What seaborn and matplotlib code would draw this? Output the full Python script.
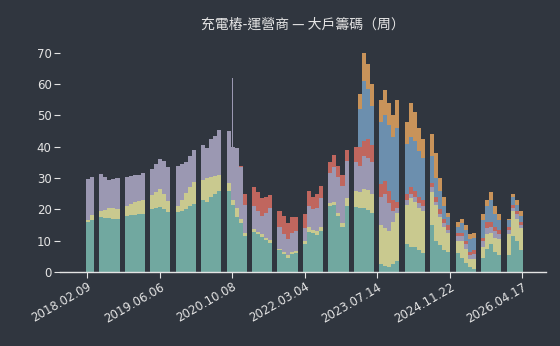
import pandas as pd
import seaborn as sns
import matplotlib.pyplot as plt
import numpy as np

# 每個區塊的週數 (區塊之間留空白)
block_sizes = [2, 5, 5, 5, 5, 5, 5, 5, 5, 5, 5, 5, 5, 5, 5, 5, 5, 4]
gap = 1.3

# 累積持股比例 (由下往上, 單位 %)
lvl_teal = [
    [16.0, 16.5],
    [17.6, 17.4, 17.2, 17.0, 17.0],
    [18.0, 18.1, 18.2, 18.4, 18.6],
    [20.2, 20.6, 20.8, 20.0, 19.2],
    [19.2, 19.5, 20.2, 21.0, 21.8],
    [22.9, 22.5, 24.0, 25.0, 26.0],
    [26.0, 21.5, 17.5, 15.5, 11.5],
    [12.8, 12.0, 11.2, 10.2, 9.3],
    [6.9, 5.8, 4.6, 5.8, 6.2],
    [9.0, 12.8, 12.3, 11.8, 13.0],
    [21.0, 21.3, 18.0, 14.5, 21.0],
    [20.8, 20.5, 20.3, 19.8, 18.8],
    [2.7, 2.0, 1.6, 2.5, 3.5],
    [9.0, 8.0, 8.0, 7.0, 6.0],
    [15.0, 10.0, 8.5, 7.0, 6.5],
    [6.0, 4.5, 3.0, 1.5, 1.0],
    [4.5, 7.5, 9.0, 6.5, 5.5],
    [5.5, 11.5, 10.0, 7.0],
]
lvl_yellow = [
    [16.6, 18.3],
    [19.4, 19.8, 20.5, 20.5, 20.0],
    [21.0, 21.6, 22.2, 22.7, 23.1],
    [24.5, 25.6, 26.6, 25.0, 22.7],
    [21.2, 23.0, 25.2, 27.0, 28.6],
    [29.4, 30.0, 30.5, 30.8, 31.0],
    [28.5, 23.0, 20.5, 17.0, 12.5],
    [13.8, 12.8, 12.0, 11.0, 10.3],
    [7.5, 6.5, 5.3, 6.5, 6.8],
    [10.0, 14.5, 13.5, 13.0, 14.5],
    [22.0, 22.4, 19.0, 15.5, 23.5],
    [26.0, 25.5, 26.5, 26.3, 25.0],
    [15.0, 14.0, 13.0, 16.0, 19.0],
    [21.5, 23.5, 22.5, 20.5, 19.5],
    [25.5, 21.5, 17.5, 14.5, 12.5],
    [10.0, 10.0, 7.5, 4.0, 4.0],
    [8.0, 12.0, 12.5, 11.0, 10.5],
    [12.0, 19.5, 17.0, 14.0],
]
lvl_lavender = [
    [29.6, 30.5],
    [31.3, 30.5, 29.5, 29.8, 30.0],
    [30.5, 30.8, 30.9, 31.0, 31.6],
    [33.0, 34.5, 36.0, 35.5, 33.5],
    [33.8, 34.5, 35.0, 37.0, 39.0],
    [40.5, 39.5, 42.5, 43.5, 45.5],
    [45.0, 40.0, 39.5, 33.5, 21.5],
    [21.0, 19.5, 18.0, 19.0, 20.5],
    [14.5, 12.0, 10.5, 12.5, 13.0],
    [14.0, 21.0, 20.0, 20.5, 23.5],
    [31.5, 33.5, 30.5, 27.5, 35.5],
    [35.0, 34.0, 37.0, 36.5, 35.0],
    [24.0, 25.0, 22.0, 19.5, 20.5],
    [23.0, 25.0, 24.0, 22.0, 21.0],
    [27.0, 22.5, 18.5, 15.5, 13.5],
    [11.5, 11.5, 9.0, 5.5, 5.8],
    [10.0, 14.0, 14.5, 13.0, 12.0],
    [13.5, 20.5, 18.5, 15.0],
]
lvl_red = [
    [29.6, 30.5],
    [31.3, 30.5, 29.5, 29.8, 30.0],
    [30.5, 30.8, 30.9, 31.0, 31.6],
    [33.0, 34.5, 36.0, 35.5, 33.5],
    [33.8, 34.5, 35.0, 37.0, 39.0],
    [40.5, 39.5, 42.5, 43.5, 45.5],
    [45.0, 40.0, 39.5, 34.0, 25.0],
    [27.0, 25.5, 23.5, 24.0, 24.5],
    [19.5, 18.0, 15.5, 17.5, 17.5],
    [18.5, 26.0, 24.0, 25.0, 27.5],
    [35.0, 37.5, 34.0, 31.0, 39.0],
    [40.0, 40.0, 42.0, 42.5, 40.5],
    [28.0, 29.0, 26.0, 23.0, 22.5],
    [25.0, 27.0, 26.0, 24.0, 23.0],
    [28.5, 24.0, 20.0, 17.0, 15.0],
    [12.5, 12.5, 10.0, 6.5, 7.0],
    [11.0, 16.0, 16.0, 14.5, 13.5],
    [14.5, 21.5, 19.5, 16.0],
]
lvl_blue = [
    [29.6, 30.5],
    [31.3, 30.5, 29.5, 29.8, 30.0],
    [30.5, 30.8, 30.9, 31.0, 31.6],
    [33.0, 34.5, 36.0, 35.5, 33.5],
    [33.8, 34.5, 35.0, 37.0, 39.0],
    [40.5, 39.5, 42.5, 43.5, 45.5],
    [45.0, 40.0, 39.5, 34.0, 25.0],
    [27.0, 25.5, 23.5, 24.0, 24.5],
    [19.5, 18.0, 15.5, 17.5, 17.5],
    [18.5, 26.0, 24.0, 25.0, 27.5],
    [35.0, 37.5, 34.0, 31.0, 39.0],
    [40.0, 52.0, 61.0, 58.5, 53.0],
    [48.0, 50.0, 47.0, 43.0, 46.0],
    [41.0, 43.0, 42.0, 38.5, 36.5],
    [37.0, 30.0, 26.0, 21.0, 17.5],
    [14.5, 15.5, 13.5, 10.5, 11.0],
    [16.5, 21.0, 23.0, 18.5, 16.5],
    [16.5, 24.0, 21.5, 18.0],
]
lvl_total = [
    [29.6, 30.5],
    [31.3, 30.5, 29.5, 29.8, 30.0],
    [30.5, 30.8, 30.9, 31.0, 31.6],
    [33.0, 34.5, 36.0, 35.5, 33.5],
    [33.8, 34.5, 35.0, 37.0, 39.0],
    [40.5, 39.5, 42.5, 43.5, 45.5],
    [45.0, 40.0, 39.5, 34.0, 25.0],
    [27.0, 25.5, 23.5, 24.0, 24.5],
    [19.5, 18.0, 15.5, 17.5, 17.5],
    [18.5, 26.0, 24.0, 25.0, 27.5],
    [35.0, 37.5, 34.0, 31.0, 39.0],
    [40.0, 57.0, 70.0, 66.5, 60.0],
    [55.0, 58.0, 54.0, 50.0, 55.0],
    [48.0, 54.0, 51.0, 46.0, 42.5],
    [44.0, 38.0, 30.0, 24.0, 19.0],
    [16.0, 17.0, 15.0, 12.0, 12.5],
    [18.5, 23.0, 25.5, 21.0, 18.5],
    [17.0, 25.0, 23.0, 19.5],
]

# 單週突波 (2020 年底): 第 7 區塊第 2 根
spike_block, spike_bar = 6, 1
spike_value = 62.0

tick_weeks = [0, 70, 140, 210, 280, 350, 420]
tick_labels = ['2018.02.09', '2019.06.06', '2020.10.08', '2022.03.04',
               '2023.07.14', '2024.11.22', '2026.04.17']

bg = '#30363f'
fg = '#e4e4e4'
colors = {
    'total': '#c8935a',
    'blue': '#6c8fae',
    'red': '#c0665e',
    'lavender': '#9b98b2',
    'yellow': '#c9c98f',
    'teal': '#71a8a0',
}

# 區塊 -> 位置
block_pos = []
pos = 0.0
for n in block_sizes:
    block_pos.append([pos + i for i in range(n)])
    pos += n + gap
slots = [round(p, 3) for b in block_pos for p in b]

levels = {'total': lvl_total, 'blue': lvl_blue, 'red': lvl_red,
          'lavender': lvl_lavender, 'yellow': lvl_yellow, 'teal': lvl_teal}
rows = []
for name, blocks in levels.items():
    vals = [v for b in blocks for v in b]
    for s, v in zip(slots, vals):
        rows.append({'slot': s, 'level': name, 'value': v})
df = pd.DataFrame(rows)

sns.set_theme(style='dark', rc={
    'axes.facecolor': bg, 'figure.facecolor': bg,
    'text.color': fg, 'xtick.color': fg, 'ytick.color': fg,
    'axes.labelcolor': fg, 'axes.edgecolor': fg,
})
plt.rcParams['font.family'] = ['DejaVu Sans', 'Noto Sans CJK TC']

fig = plt.figure(figsize=(5.6, 3.46), dpi=100)
ax = fig.add_axes([0.1071, 0.2139, 0.8679, 0.6786])

spike_df = pd.DataFrame({'slot': [block_pos[spike_block][spike_bar]], 'value': [spike_value]})
sns.barplot(data=spike_df, x='slot', y='value', native_scale=True, width=0.25,
            color=colors['lavender'], saturation=1, linewidth=0, errorbar=None,
            antialiased=False, ax=ax)

# 由最上層往下畫, 疊出堆疊效果
for name in ['total', 'blue', 'red', 'lavender', 'yellow', 'teal']:
    sub = df[df['level'] == name]
    sns.barplot(data=sub, x='slot', y='value', native_scale=True, width=1.0,
                color=colors[name], saturation=1, linewidth=0,
                errorbar=None, antialiased=False, ax=ax)

# 週 -> 位置
left_px, right_px = 86.0, 522.7
slot_px = (right_px - left_px) / (slots[-1] + 1)
week_px = 72.5 / 70
ticks = [(1.5 + w * week_px) / slot_px - 0.5 for w in tick_weeks]
ax.set_xticks(ticks)
ax.set_xticklabels(tick_labels, rotation=30, ha='right', rotation_mode='anchor', fontsize=8.5)
ax.set_xlim((60 - left_px) / slot_px - 0.5, (546 - left_px) / slot_px - 0.5)
ax.set_ylim(0, 75)
ax.set_yticks(range(0, 80, 10))
ax.tick_params(axis='y', labelsize=8.5, length=4, width=0.8, left=True, pad=2)
ax.tick_params(axis='x', length=4, width=0.8, bottom=True, pad=2)
ax.set_xlabel('')
ax.set_ylabel('')
for side in ['left', 'top', 'right']:
    ax.spines[side].set_visible(False)
ax.spines['bottom'].set_color(fg)
ax.spines['bottom'].set_linewidth(1.0)
ax.grid(False)

fig.text(0.541, 0.928, '充電樁-運營商 — 大戶籌碼（周）', ha='center', va='center',
         fontsize=10, color=fg, family=['Noto Sans CJK TC', 'DejaVu Sans'])

fig.savefig('out.png', dpi=100, facecolor=bg)
